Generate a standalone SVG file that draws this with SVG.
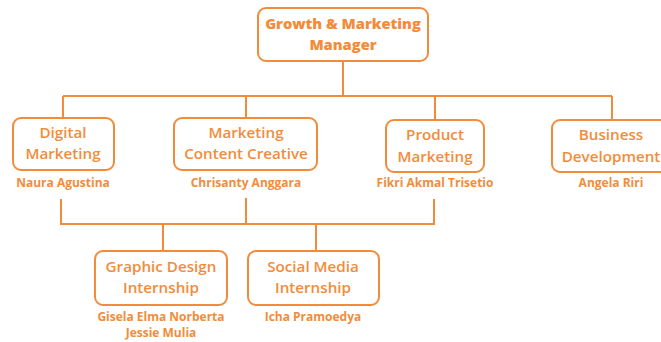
<svg xmlns="http://www.w3.org/2000/svg" width="661" height="342" viewBox="0 0 661 342">
<style>
.box{fill:#fff;stroke:#F28C3A;stroke-width:2;}
.ln{fill:none;stroke:#F28C3A;stroke-width:2;}
.t{font-family:"Open Sans","Liberation Sans",sans-serif;fill:#F28C3A;text-anchor:middle;}
.h{font-size:14.7px;font-weight:800;}
.l{font-size:15.2px;font-weight:600;}
.n{font-size:12px;font-weight:700;}
</style>
<rect width="661" height="342" fill="#fff"/>
<g id="connectors">
<path class="ln" d="M343 61V96M63 96H612M63 96V118M246 96V118M435 96V120M612 96V120"/>
<path class="ln" d="M61 199V224H434V199M246 198V224M163 224V251M316 224V251"/>
</g>
<g id="manager">
<rect class="box" x="258" y="8" width="170" height="53" rx="8"/>
<text class="t h" x="343" y="29">Growth &amp; Marketing</text>
<text class="t h" x="343" y="50">Manager</text>
</g>
<g id="digital">
<rect class="box" x="13" y="118" width="101" height="52" rx="8"/>
<text class="t l" x="63" y="138">Digital</text>
<text class="t l" x="63" y="159">Marketing</text>
<text class="t n" x="63" y="187">Naura Agustina</text>
</g>
<g id="content">
<rect class="box" x="174" y="118" width="143" height="52" rx="8"/>
<text class="t l" x="246" y="138">Marketing</text>
<text class="t l" x="246" y="159">Content Creative</text>
<text class="t n" x="246" y="187">Chrisanty Anggara</text>
</g>
<g id="product">
<rect class="box" x="386" y="120" width="98" height="52" rx="8"/>
<text class="t l" x="435" y="140">Product</text>
<text class="t l" x="435" y="162">Marketing</text>
<text class="t n" x="435" y="187">Fikri Akmal Trisetio</text>
</g>
<g id="business">
<rect class="box" x="552" y="120" width="120" height="52" rx="8"/>
<text class="t l" x="611" y="140">Business</text>
<text class="t l" x="611" y="162">Development</text>
<text class="t n" x="611" y="187">Angela Riri</text>
</g>
<g id="graphic">
<rect class="box" x="95" y="251" width="132" height="54" rx="8"/>
<text class="t l" x="161" y="272">Graphic Design</text>
<text class="t l" x="161" y="293">Internship</text>
<text class="t n" x="161" y="321">Gisela Elma Norberta</text>
<text class="t n" x="161" y="337">Jessie Mulia</text>
</g>
<g id="social">
<rect class="box" x="248" y="251" width="131" height="54" rx="8"/>
<text class="t l" x="313" y="272">Social Media</text>
<text class="t l" x="313" y="293">Internship</text>
<text class="t n" x="313" y="321">Icha Pramoedya</text>
</g>
</svg>
